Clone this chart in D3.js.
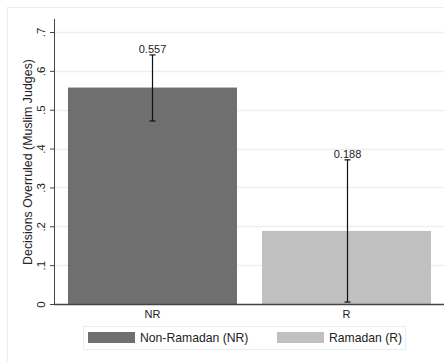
<!DOCTYPE html>
<html>
<head>
<meta charset="utf-8">
<script src="https://cdn.jsdelivr.net/npm/d3@7"></script>
<style>
  body { margin: 0; background: #fff; }
  text { font-family: "Liberation Sans", Arial, sans-serif; fill: #222; }
</style>
</head>
<body>
<div id="container"></div>
<script>
// données
const categories = ["NR", "R"];
const means = [0.557, 0.188];
const ci_low = [0.471, 0.005];
const ci_high = [0.641, 0.371];
const legend_labels = ["Non-Ramadan (NR)", "Ramadan (R)"];
const y_ticks = [0, 0.1, 0.2, 0.3, 0.4, 0.5, 0.6, 0.7];
const y_tick_labels = ["0", ".1", ".2", ".3", ".4", ".5", ".6", ".7"];

const width = 444, height = 362;
const colors = ["#6f6f6f", "#c0c0c0"];

const svg = d3.select("#container").append("svg")
    .attr("width", width)
    .attr("height", height);

// cadre extérieur
svg.append("rect")
    .attr("x", 7.5).attr("y", 7.5)
    .attr("width", width).attr("height", height)
    .attr("fill", "none")
    .attr("stroke", "#e6eeef");

const x = d3.scaleBand()
    .domain(categories)
    .range([54, 445])
    .paddingInner(0.129)
    .paddingOuter(0.072);

const y = d3.scaleLinear()
    .domain([0, 0.7])
    .range([304, 32]);

// grille
svg.append("g")
    .selectAll("line")
    .data(y_ticks.slice(1))
    .join("line")
    .attr("x1", 54).attr("x2", width)
    .attr("y1", d => Math.round(y(d)) + 0.5)
    .attr("y2", d => Math.round(y(d)) + 0.5)
    .attr("stroke", "#e8f0f1")
    .attr("stroke-width", 1.5);

// barres
svg.append("g")
    .selectAll("rect")
    .data(categories)
    .join("rect")
    .attr("x", d => x(d))
    .attr("width", x.bandwidth())
    .attr("y", (d, i) => y(means[i]))
    .attr("height", (d, i) => y(0) - y(means[i]))
    .attr("fill", (d, i) => colors[i]);

// intervalles de confiance
const err = svg.append("g").attr("stroke", "#111").attr("stroke-width", 1.2);
categories.forEach((c, i) => {
    const cx = Math.round(x(c) + x.bandwidth() / 2) + 0.5;
    err.append("line")
        .attr("x1", cx).attr("x2", cx)
        .attr("y1", y(ci_low[i])).attr("y2", y(ci_high[i]));
    [ci_low[i], ci_high[i]].forEach(v => {
        err.append("line")
            .attr("x1", cx - 3).attr("x2", cx + 3)
            .attr("y1", y(v)).attr("y2", y(v));
    });
    svg.append("text")
        .attr("x", cx)
        .attr("y", y(ci_high[i]) - 2)
        .attr("text-anchor", "middle")
        .attr("font-size", 11)
        .text(means[i].toFixed(3));
});

// axe y
const yAxis = svg.append("g")
    .attr("transform", "translate(54,0)")
    .call(d3.axisLeft(y).tickValues(y_ticks).tickFormat((d, i) => y_tick_labels[i]).tickSize(4).tickSizeOuter(0));
yAxis.select(".domain").attr("stroke", "#444").attr("d", `M0.5,19V${y(0)}`);
yAxis.selectAll(".tick line").attr("stroke", "#444");
yAxis.selectAll(".tick text")
    .attr("font-size", 11.5)
    .attr("transform", "rotate(-90)")
    .attr("x", 0)
    .attr("y", -9)
    .attr("dy", 0)
    .attr("text-anchor", "middle")
    .attr("fill", "#222");

// titre de l'axe y
svg.append("text")
    .attr("transform", "translate(32,162) rotate(-90)")
    .attr("text-anchor", "middle")
    .attr("font-size", 12.4)
    .text("Decisions Overruled (Muslim Judges)");

// axe x
svg.append("line")
    .attr("x1", 54).attr("x2", width)
    .attr("y1", y(0) + 0.5).attr("y2", y(0) + 0.5)
    .attr("stroke", "#444").attr("stroke-width", 1.5);

svg.append("g")
    .selectAll("text")
    .data(categories)
    .join("text")
    .attr("x", d => x(d) + x.bandwidth() / 2)
    .attr("y", 318)
    .attr("text-anchor", "middle")
    .attr("font-size", 11)
    .text(d => d);

// légende
svg.append("rect")
    .attr("x", 83.5).attr("y", 326.5)
    .attr("width", 322).attr("height", 23)
    .attr("fill", "none")
    .attr("stroke", "#e6eeef");

const leg_x = [88, 277];
legend_labels.forEach((l, i) => {
    svg.append("rect")
        .attr("x", leg_x[i]).attr("y", 332)
        .attr("width", 47).attr("height", 11)
        .attr("fill", colors[i]);
    svg.append("text")
        .attr("x", leg_x[i] + 52)
        .attr("y", 342)
        .attr("font-size", 12.2)
        .text(l);
});
</script>
</body>
</html>
